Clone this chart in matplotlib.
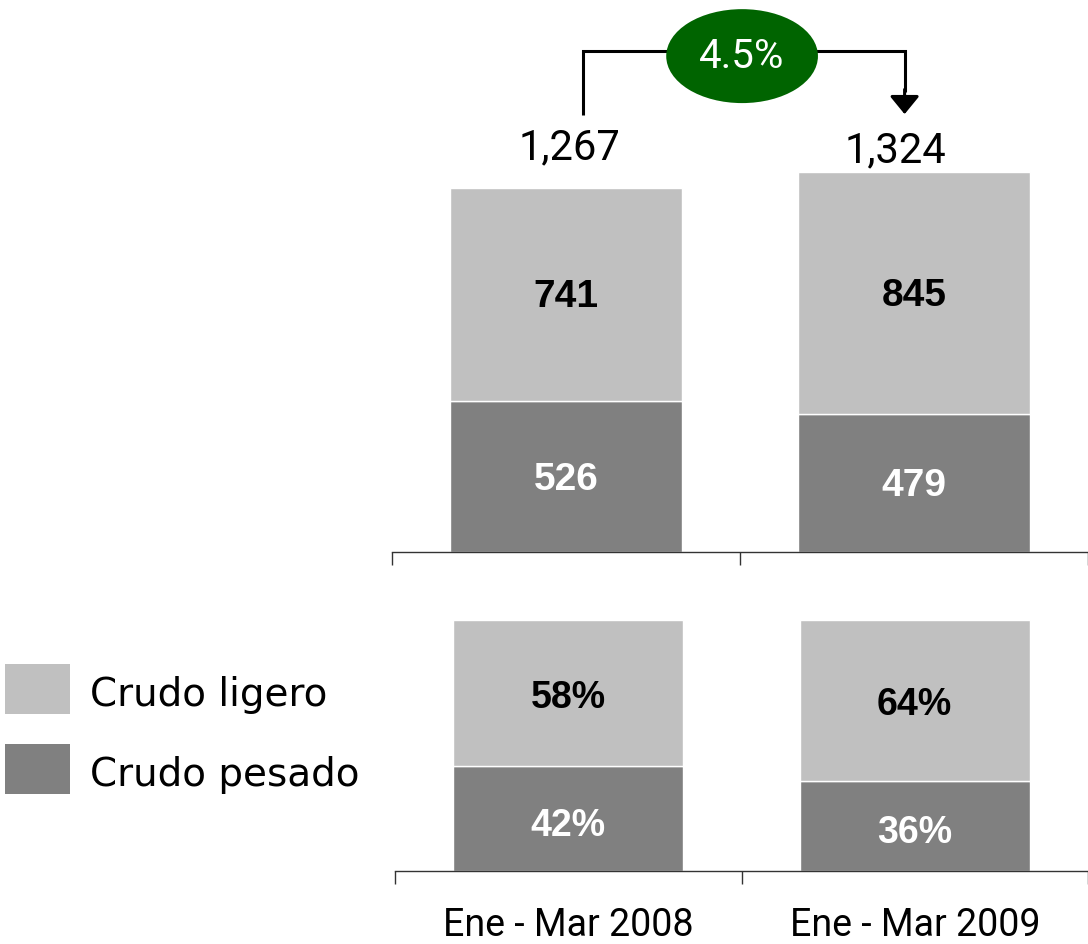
import matplotlib.pyplot as plt
from matplotlib.patches import Ellipse, Rectangle

# Data
periods = ["Ene - Mar 2008", "Ene - Mar 2009"]
ligero = [741, 845]
pesado = [526, 479]
ligero_pct = [58, 64]
pesado_pct = [42, 36]
series_names = ["Crudo ligero", "Crudo pesado"]

c_light = "#c0c0c0"
c_dark = "#808080"
narrow = ["Roboto", "DejaVu Sans"]
bold_font = ["Liberation Sans", "DejaVu Sans"]

totals = [a + b for a, b in zip(ligero, pesado)]
growth = (totals[1] / totals[0] - 1) * 100

fig = plt.figure(figsize=(10.88, 9.45), dpi=100)

# top panel: volumes
ax1 = fig.add_axes([392 / 1088, (945 - 553) / 945, 1 - 392 / 1088, 553 / 945])
x = range(len(periods))
ax1.bar(x, pesado, width=0.665, color=c_dark, edgecolor="white", linewidth=1)
ax1.bar(x, ligero, bottom=pesado, width=0.665, color=c_light, edgecolor="white", linewidth=1)
ax1.set_xlim(-0.5, 1.483)
ax1.set_ylim(0, 553 / 0.2873)
for i in x:
    ax1.text(i, pesado[i] / 2 - 8, f"{pesado[i]}", ha="center", va="center",
             fontsize=28, fontweight="bold", color="white", family=bold_font)
    ax1.text(i, pesado[i] + ligero[i] / 2 - 6, f"{ligero[i]}", ha="center", va="center",
             fontsize=28, fontweight="bold", color="black", family=bold_font)
label_dx = [0.01, -0.053]
label_gap = [144, 77]
for i in x:
    ax1.text(i + label_dx[i], totals[i] + label_gap[i], f"{totals[i]:,}", ha="center",
             va="center", fontsize=30, color="black", family=narrow)

# growth connector
y_top = 1744
ax1.plot([0.05, 0.05, 0.973, 0.973], [1521, y_top, y_top, 1600], color="black",
         lw=2.2, clip_on=False, solid_joinstyle="miter", solid_capstyle="butt")
ax1.annotate("", xy=(0.973, 1524), xytext=(0.973, 1610),
             arrowprops=dict(arrowstyle="-|>,head_width=0.9,head_length=1.1",
                             color="black", lw=2.2, shrinkA=0, shrinkB=0),
             annotation_clip=False)
ax1.add_patch(Ellipse((0.506, 1726), 0.436, 327, facecolor="#006400",
                      edgecolor="none", clip_on=False, zorder=3))
ax1.text(0.506, 1728, f"{growth:.1f}%", ha="center", va="center", fontsize=29,
         color="white", family=narrow, zorder=4)

# bottom panel: shares
ax2 = fig.add_axes([395 / 1088, (945 - 872) / 945, 1 - 395 / 1088, 251 / 945])
ax2.bar(x, pesado_pct, width=0.665, color=c_dark, edgecolor="white", linewidth=1)
ax2.bar(x, ligero_pct, bottom=pesado_pct, width=0.665, color=c_light, edgecolor="white", linewidth=1)
ax2.set_xlim(-0.5, 1.497)
ax2.set_ylim(0, 100)
for i in x:
    ax2.text(i, pesado_pct[i] / 2 - 2.5, f"{pesado_pct[i]}%", ha="center", va="center",
             fontsize=27, fontweight="bold", color="white", family=bold_font)
    ax2.text(i, pesado_pct[i] + ligero_pct[i] / 2 - 1.5, f"{ligero_pct[i]}%", ha="center",
             va="center", fontsize=27, fontweight="bold", color="black", family=bold_font)

for ax in (ax1, ax2):
    for s in ("top", "right", "left"):
        ax.spines[s].set_visible(False)
    ax.spines["bottom"].set_color("#333333")
    ax.spines["bottom"].set_linewidth(1)
    ax.set_yticks([])
    ax.set_xticks([-0.5, 0.5, 1.5])
    ax.set_xticklabels([])
    ax.tick_params(axis="x", which="major", length=9.5, width=1, color="#333333", direction="out")
    ax.patch.set_alpha(0)

ax2.set_xticks(list(x), minor=True)
ax2.set_xticklabels(periods, minor=True, fontsize=27, family=narrow)
ax2.tick_params(axis="x", which="minor", length=0, pad=25)

# legend
for k, (name, col) in enumerate(zip(series_names, [c_light, c_dark])):
    y0 = 945 - 715 - k * 80
    fig.patches.append(Rectangle((5 / 1088, y0 / 945), 65 / 1088, 50 / 945,
                                 transform=fig.transFigure, facecolor=col, edgecolor="none"))
    fig.text(90 / 1088, (y0 + 20) / 945, name, ha="left", va="center", fontsize=28,
             family=["DejaVu Sans"])

fig.savefig("out.png", dpi=100)
